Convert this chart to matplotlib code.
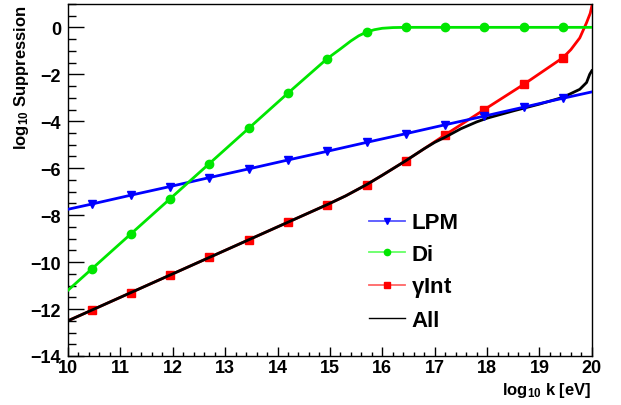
import numpy as np
import matplotlib
matplotlib.use("Agg")
import matplotlib.pyplot as plt
from matplotlib.ticker import MultipleLocator

plt.rcParams['font.family'] = ['Liberation Sans', 'DejaVu Sans']
plt.rcParams['mathtext.fontset'] = 'custom'
plt.rcParams['mathtext.rm'] = 'Liberation Sans:bold'
plt.rcParams['mathtext.bf'] = 'Liberation Sans:bold'
plt.rcParams['mathtext.default'] = 'bf'

# marker positions (log10 k)
mark_x = [10.45, 11.2, 11.95, 12.7, 13.45, 14.2, 14.95, 15.7, 16.45, 17.2, 17.95, 18.7, 19.45]

# LPM
lpm_x = [10.0] + mark_x + [20.0]
lpm_y = [-7.75, -7.53, -7.15, -6.78, -6.4, -6.03, -5.65, -5.28, -4.9, -4.53, -4.15, -3.78, -3.4, -3.02, -2.75]
lpm_mark = [-7.53, -7.15, -6.78, -6.4, -6.03, -5.65, -5.28, -4.9, -4.53, -4.15, -3.78, -3.4, -3.02]

# Di (dielectric)
di_x = [10.0, 10.45, 11.2, 11.95, 12.7, 13.45, 14.2, 14.95, 15.2, 15.4, 15.55, 15.7, 15.85,
        16.0, 16.2, 16.45, 17.2, 17.95, 18.7, 19.45, 20.0]
di_y = [-11.2, -10.3, -8.8, -7.3, -5.8, -4.3, -2.8, -1.33, -0.92, -0.58, -0.36, -0.2, -0.1,
        -0.04, -0.01, 0.0, 0.0, 0.0, 0.0, 0.0, 0.0]
di_mark = [-10.3, -8.8, -7.3, -5.8, -4.3, -2.8, -1.33, -0.2, 0.0, 0.0, 0.0, 0.0, 0.0]

# gamma interaction
gi_x = [10.0, 10.45, 11.2, 11.95, 12.7, 13.45, 14.2, 14.95, 15.3, 15.7, 16.0, 16.45, 16.8,
        17.2, 17.95, 18.7, 19.45, 19.6, 19.77, 19.9, 19.97, 20.0]
gi_y = [-12.5, -12.05, -11.3, -10.55, -9.8, -9.05, -8.3, -7.55, -7.18, -6.7, -6.3, -5.68, -5.17,
        -4.58, -3.5, -2.43, -1.29, -0.95, -0.45, 0.2, 0.6, 0.9]
gi_mark = [-12.05, -11.3, -10.55, -9.8, -9.05, -8.3, -7.55, -6.7, -5.68, -4.58, -3.5, -2.43, -1.29]

# All combined
all_x = [10.0, 10.45, 11.2, 11.95, 12.7, 13.45, 14.2, 14.95, 15.3, 15.7, 16.0, 16.45, 16.8,
         17.0, 17.2, 17.5, 17.8, 18.0, 18.5, 19.0, 19.45, 19.77, 19.9, 19.96, 20.0]
all_y = [-12.5, -12.05, -11.3, -10.55, -9.8, -9.05, -8.3, -7.55, -7.18, -6.7, -6.3, -5.68, -5.17,
         -4.9, -4.68, -4.32, -4.03, -3.87, -3.56, -3.27, -2.98, -2.64, -2.35, -2.0, -1.85]

fig = plt.figure(figsize=(6.21, 4.06), dpi=100)
ax = fig.add_axes([0.1095, 0.1207, 0.8435, 0.8673])

ax.plot(all_x, all_y, color='black', lw=2.0, zorder=2)
ax.plot(lpm_x, lpm_y, color='#0000ff', lw=2.0, zorder=3)
ax.plot(di_x, di_y, color='#00e600', lw=2.0, zorder=3)
ax.plot(gi_x, gi_y, color='#ff0000', lw=2.0, zorder=1.5)
ax.plot(mark_x, lpm_mark, ls='none', marker='v', ms=6.0, color='#0000ff', zorder=4)
ax.plot(mark_x, di_mark, ls='none', marker='o', ms=6.0, color='#00e600', zorder=4)
ax.plot(mark_x, gi_mark, ls='none', marker='s', ms=5.5, color='#ff0000', zorder=1.8)

h1, = ax.plot([], [], color='#5555ff', lw=1.3, marker='v', ms=4.5, mfc='#0000ff', mec='#0000ff')
h2, = ax.plot([], [], color='#66ff66', lw=1.3, marker='o', ms=4.5, mfc='#00e600', mec='#00e600')
h3, = ax.plot([], [], color='#ff6666', lw=1.3, marker='s', ms=4.5, mfc='#ff0000', mec='#ff0000')
h4, = ax.plot([], [], color='black', lw=1.0)
leg = ax.legend([h1, h2, h3, h4], ['LPM', 'Di', r'$\gamma$Int', 'All'],
                loc='upper left', bbox_to_anchor=(0.545, 0.452), frameon=False,
                prop={'weight': 'bold', 'size': 16}, handlelength=1.6,
                handletextpad=0.3, labelspacing=0.47, borderpad=0.2)

ax.set_xlim(10, 20)
ax.set_ylim(-14, 1.0)
ax.xaxis.set_major_locator(MultipleLocator(1))
ax.xaxis.set_minor_locator(MultipleLocator(0.2))
ax.yaxis.set_major_locator(MultipleLocator(2))
ax.yaxis.set_minor_locator(MultipleLocator(0.5))
ax.tick_params(which='both', direction='in', top=False, right=False, width=1, labelsize=13)
ax.tick_params(axis='x', which='major', length=6.5, pad=2)
ax.tick_params(axis='x', which='minor', length=3.2)
ax.tick_params(axis='y', which='major', length=11.5, pad=5)
ax.tick_params(axis='y', which='minor', length=5.8)
for lab in ax.get_xticklabels() + ax.get_yticklabels():
    lab.set_fontweight('bold')
for s in ax.spines.values():
    s.set_linewidth(1.0)

ax.set_xlabel(r'log$_{10}$ k [eV]', fontsize=12, fontweight='bold', ha='right')
ax.xaxis.set_label_coords(1.0, -0.068)
ax.set_ylabel(r'log$_{10}$ Suppression', fontsize=12, fontweight='bold', ha='right')
ax.yaxis.set_label_coords(-0.071, 1.0)

fig.savefig('out.png', dpi=100)
